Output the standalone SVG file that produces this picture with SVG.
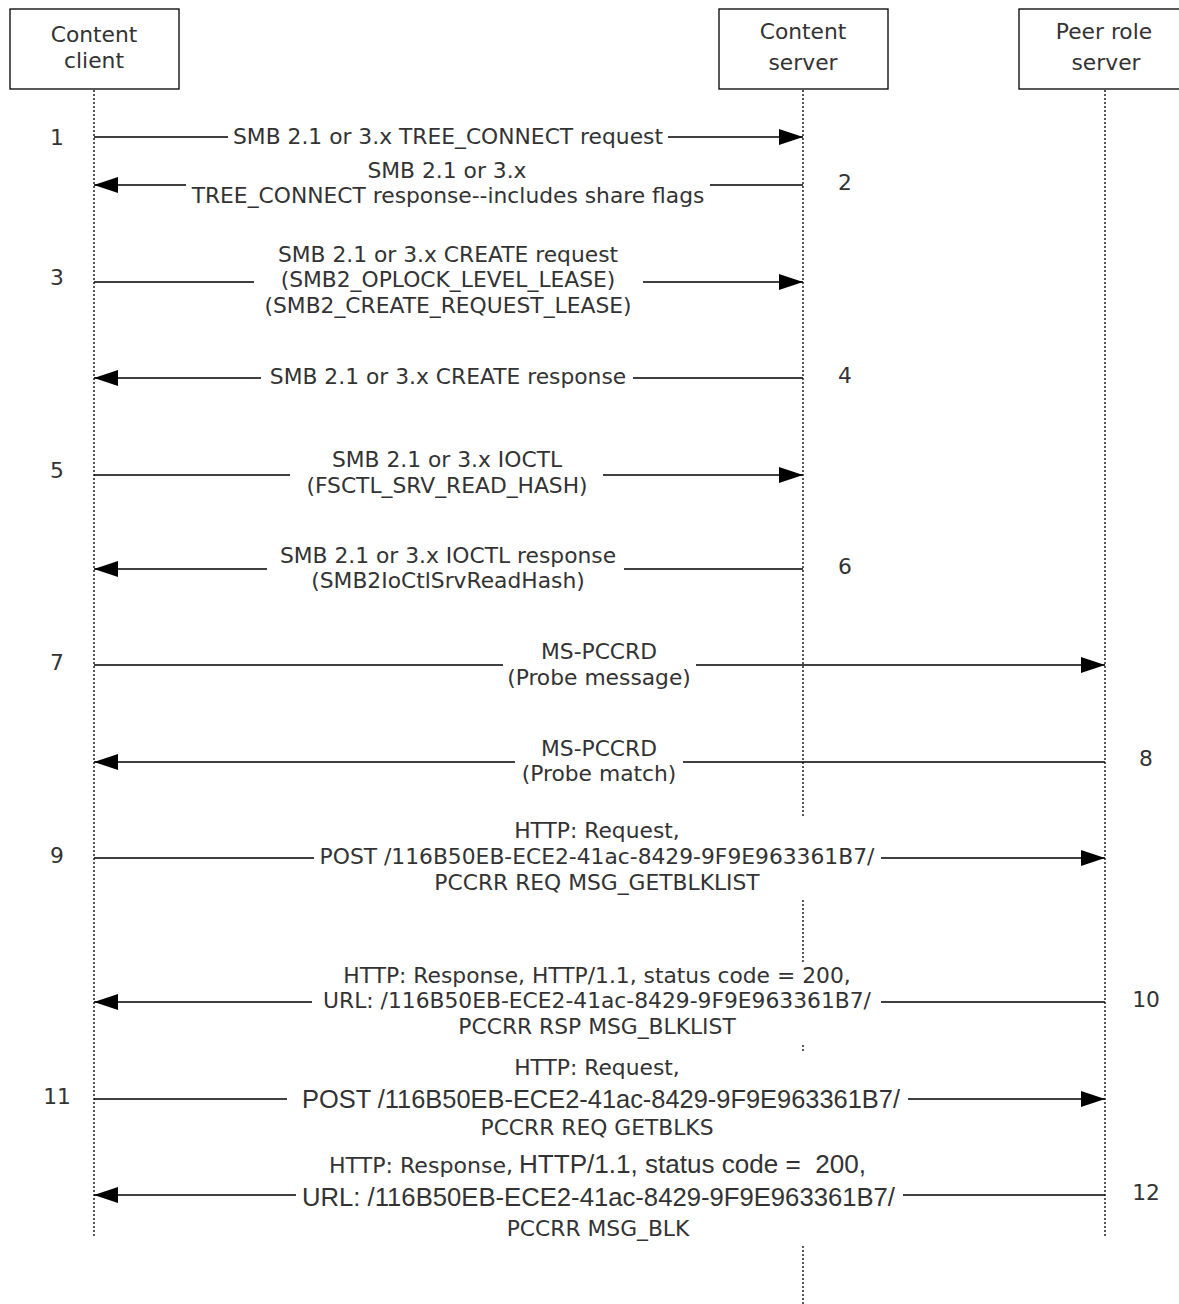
<svg xmlns="http://www.w3.org/2000/svg" width="1179" height="1304" viewBox="0 0 1179 1304">
<style>
  .box { fill: #fff; stroke: #000; stroke-width: 1.3; }
  .life { stroke: #000; stroke-width: 1.3; stroke-dasharray: 2 2; fill: none; }
  .msg { stroke: #000; stroke-width: 1.6; fill: none; }
  .arr { marker-end: url(#ah); }
  text { font-family: "DejaVu Sans", Verdana, sans-serif; font-size: 21.8px; fill: #333; }
  .c { text-anchor: middle; }
  .cal { font-family: "Liberation Sans", Arial, sans-serif; font-size: 25px; }
</style>
<defs>
  <marker id="ah" viewBox="0 0 24 16" refX="24" refY="8" markerWidth="24" markerHeight="16" markerUnits="userSpaceOnUse" orient="auto">
    <path d="M0,0 L24,8 L0,16 z" fill="#000"/>
  </marker>
</defs>
<rect width="1179" height="1304" fill="#fff"/>

<g id="node-client">
  <rect class="box" x="10" y="9" width="169" height="80"/>
  <text class="c" x="94" y="42">Content</text>
  <text class="c" x="94" y="68">client</text>
</g>
<g id="node-server">
  <rect class="box" x="719" y="9" width="169" height="80"/>
  <text class="c" x="803" y="39">Content</text>
  <text class="c" x="803" y="70">server</text>
</g>
<g id="node-peer">
  <rect class="box" x="1019" y="9" width="175" height="80"/>
  <text class="c" x="1104" y="39">Peer role</text>
  <text class="c" x="1106" y="70">server</text>
</g>

<g id="lifelines">
  <path class="life" d="M94,90 V1236"/>
  <path class="life" d="M1105,90 V1236"/>
  <path class="life" d="M803,90 V818 M803,900 V962 M803,1045 V1053 M803,1246 V1304"/>
</g>

<g id="connectors">
  <path class="msg" d="M94,137 H228"/><path class="msg arr" d="M668,137 H803"/>
  <path class="msg" d="M803,185 H710"/><path class="msg arr" d="M186,185 H94"/>
  <path class="msg" d="M94,282 H254"/><path class="msg arr" d="M643,282 H803"/>
  <path class="msg" d="M803,378 H633"/><path class="msg arr" d="M261,378 H94"/>
  <path class="msg" d="M94,475 H290"/><path class="msg arr" d="M603,475 H803"/>
  <path class="msg" d="M803,569 H624"/><path class="msg arr" d="M267,569 H94"/>
  <path class="msg" d="M94,665 H503"/><path class="msg arr" d="M696,665 H1105"/>
  <path class="msg" d="M1105,762 H683"/><path class="msg arr" d="M515,762 H94"/>
  <path class="msg" d="M94,858 H314"/><path class="msg arr" d="M881,858 H1105"/>
  <path class="msg" d="M1105,1002 H881"/><path class="msg arr" d="M312,1002 H94"/>
  <path class="msg" d="M94,1099 H287"/><path class="msg arr" d="M908,1099 H1105"/>
  <path class="msg" d="M1105,1195 H903"/><path class="msg arr" d="M296,1195 H94"/>
</g>

<g id="labels">
  <text class="c" x="448" y="144">SMB 2.1 or 3.x TREE_CONNECT request</text>
  <text class="c" x="447" y="178">SMB 2.1 or 3.x</text>
  <text class="c" x="448" y="203">TREE_CONNECT response--includes share flags</text>
  <text class="c" x="448" y="262">SMB 2.1 or 3.x CREATE request</text>
  <text class="c" x="448" y="287">(SMB2_OPLOCK_LEVEL_LEASE)</text>
  <text class="c" x="448" y="313">(SMB2_CREATE_REQUEST_LEASE)</text>
  <text class="c" x="448" y="384">SMB 2.1 or 3.x CREATE response</text>
  <text class="c" x="447" y="467">SMB 2.1 or 3.x IOCTL</text>
  <text class="c" x="447" y="493">(FSCTL_SRV_READ_HASH)</text>
  <text class="c" x="448" y="563">SMB 2.1 or 3.x IOCTL response</text>
  <text class="c" x="448" y="588">(SMB2IoCtlSrvReadHash)</text>
  <text class="c" x="599" y="659">MS-PCCRD</text>
  <text class="c" x="599" y="685">(Probe message)</text>
  <text class="c" x="599" y="756">MS-PCCRD</text>
  <text class="c" x="599" y="781">(Probe match)</text>
  <text class="c" x="597" y="838">HTTP: Request,</text>
  <text class="c" x="597" y="864">POST /116B50EB-ECE2-41ac-8429-9F9E963361B7/</text>
  <text class="c" x="597" y="890">PCCRR REQ MSG_GETBLKLIST</text>
  <text class="c" x="597" y="983">HTTP: Response, HTTP/1.1, status code = 200,</text>
  <text class="c" x="597" y="1008">URL: /116B50EB-ECE2-41ac-8429-9F9E963361B7/</text>
  <text class="c" x="597" y="1034">PCCRR RSP MSG_BLKLIST</text>
  <text class="c" x="597" y="1075">HTTP: Request,</text>
  <text class="cal" x="302" y="1108" textLength="598" lengthAdjust="spacingAndGlyphs">POST /116B50EB-ECE2-41ac-8429-9F9E963361B7/</text>
  <text class="c" x="597" y="1135">PCCRR REQ GETBLKS</text>
  <text x="329" y="1173" textLength="184" lengthAdjust="spacingAndGlyphs">HTTP: Response,</text>
  <text class="cal" x="519" y="1173" textLength="347" lengthAdjust="spacingAndGlyphs">HTTP/1.1, status code =&#160; 200,</text>
  <text class="cal" x="302" y="1206" textLength="593" lengthAdjust="spacingAndGlyphs">URL: /116B50EB-ECE2-41ac-8429-9F9E963361B7/</text>
  <text class="c" x="598" y="1236">PCCRR MSG_BLK</text>
</g>

<g id="numbers">
  <text class="c" x="57" y="145">1</text>
  <text class="c" x="845" y="190">2</text>
  <text class="c" x="57" y="285">3</text>
  <text class="c" x="845" y="383">4</text>
  <text class="c" x="57" y="478">5</text>
  <text class="c" x="845" y="574">6</text>
  <text class="c" x="57" y="670">7</text>
  <text class="c" x="1146" y="766">8</text>
  <text class="c" x="57" y="863">9</text>
  <text class="c" x="1146" y="1007">10</text>
  <text class="c" x="57" y="1104">11</text>
  <text class="c" x="1146" y="1200">12</text>
</g>
</svg>
